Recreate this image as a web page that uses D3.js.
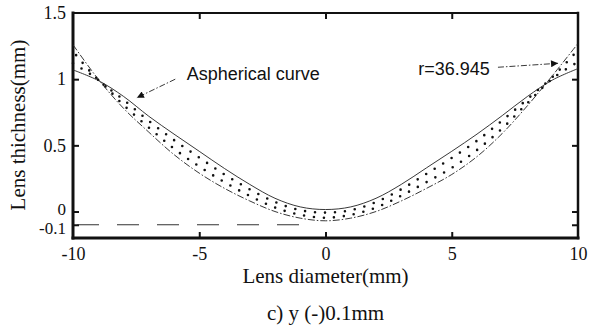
<!DOCTYPE html>
<html>
<head>
<meta charset="utf-8">
<script src="https://cdn.jsdelivr.net/npm/d3@7"></script>
<style>
  body { margin: 0; background: #fff; }
  svg { display: block; }
</style>
</head>
<body>
<div id="chart-container"></div>
<script>
// values (lens diameter in mm, thickness in mm)
const xValues = [-10, -9, -8, -7, -6, -5, -4, -3, -2, -1, 0, 1, 2, 3, 4, 5, 6, 7, 8, 9, 10];
const asphericValues = [1.07, 0.99, 0.87, 0.72, 0.585, 0.455, 0.325, 0.205, 0.1, 0.035, 0.015,
  0.035, 0.1, 0.205, 0.33, 0.455, 0.585, 0.725, 0.87, 0.995, 1.08];
const sphereValues = [1.26, 1.0, 0.78, 0.6, 0.43, 0.29, 0.175, 0.08, 0.0, -0.05, -0.07,
  -0.05, 0.0, 0.08, 0.175, 0.28, 0.415, 0.59, 0.8, 1.03, 1.27];
// the two rows of dots filling the band between the curves
const dotRowLow = [1.12, 0.995, 0.805, 0.635, 0.475, 0.34, 0.222, 0.118, 0.03, -0.025, -0.047,
  -0.025, 0.03, 0.12, 0.222, 0.33, 0.465, 0.628, 0.82, 1.006, 1.13];
const dotRowHigh = [1.21, 0.995, 0.845, 0.685, 0.54, 0.408, 0.28, 0.168, 0.072, 0.01, -0.008,
  0.01, 0.072, 0.168, 0.285, 0.405, 0.535, 0.688, 0.85, 1.019, 1.22];
// horizontal -0.1 mm shift line
const shiftLineX = [-10, -0.9];
const shiftLevel = -0.1;

const xTicks = [-10, -5, 0, 5, 10];
const yTicks = [-0.1, 0, 0.5, 1, 1.5];
const innerXTicks = [-5, 0, 5];
const innerYTicks = [-0.1, 0, 0.5, 1];

const chartWidth = 600;
const chartHeight = 329;
const margin = { top: 13, right: 22, bottom: 91, left: 73 };
const serif = '"Liberation Serif", "Times New Roman", serif';
const sans = '"Liberation Sans", Arial, sans-serif';

const svg = d3.select('#chart-container')
  .append('svg')
  .attr('width', chartWidth)
  .attr('height', chartHeight);

const xScale = d3.scaleLinear()
  .domain([-10, 10])
  .range([margin.left, chartWidth - margin.right]);
const yScale = d3.scaleLinear()
  .domain([-0.2, 1.5])
  .range([chartHeight - margin.bottom, margin.top]);

const x0 = xScale(-10), x1 = xScale(10);
const y0 = yScale(-0.2), y1 = yScale(1.5);

// Axes (ticks point inward)
const xAxis = d3.axisBottom(xScale).tickValues(xTicks)
  .tickSizeInner(0).tickSizeOuter(0).tickPadding(9).tickFormat((d) => String(d));
const yAxis = d3.axisLeft(yScale).tickValues(yTicks)
  .tickSizeInner(0).tickSizeOuter(0).tickPadding(7).tickFormat((d) => String(d));

const gx = svg.append('g').attr('transform', `translate(0,${y0})`).call(xAxis);
const gy = svg.append('g').attr('transform', `translate(${x0},0)`).call(yAxis);
[gx, gy].forEach((g) => {
  g.select('.domain').remove();
  g.selectAll('text')
    .attr('fill', '#111')
    .style('font-family', serif)
    .style('font-size', '18px');
});
// the "0" and "-0.1" labels sit very close, as in the figure
gy.selectAll('.tick').filter((d) => d === 0).select('text')
  .attr('dy', '0.15em').style('font-size', '17px');
gy.selectAll('.tick').filter((d) => d === -0.1).select('text')
  .attr('dy', '0.5em').style('font-size', '17px');

const tickAxes = [
  [d3.axisBottom(xScale).tickValues(innerXTicks), y0, 'x'],
  [d3.axisTop(xScale).tickValues(innerXTicks), y1, 'x'],
  [d3.axisLeft(yScale).tickValues(innerYTicks), x0, 'y'],
  [d3.axisRight(yScale).tickValues(innerYTicks), x1, 'y']
];
tickAxes.forEach(([ax, pos, dir]) => {
  const g = svg.append('g')
    .attr('transform', dir === 'x' ? `translate(0,${pos})` : `translate(${pos},0)`)
    .call(ax.tickSizeInner(-6).tickSizeOuter(0).tickFormat(''));
  g.select('.domain').remove();
  g.selectAll('line').attr('stroke', '#111').attr('stroke-width', 2);
});

// Frame
const frame = svg.append('g').attr('stroke', '#111').attr('stroke-linecap', 'square');
frame.append('line').attr('x1', x0).attr('x2', x1).attr('y1', y1).attr('y2', y1).attr('stroke-width', 2);
frame.append('line').attr('x1', x0).attr('x2', x1).attr('y1', y0).attr('y2', y0).attr('stroke-width', 3);
frame.append('line').attr('x1', x0).attr('x2', x0).attr('y1', y1).attr('y2', y0).attr('stroke-width', 3);
frame.append('line').attr('x1', x1).attr('x2', x1).attr('y1', y1).attr('y2', y0).attr('stroke-width', 2.5);

// Curves
const line = d3.line()
  .x((d) => xScale(d[0]))
  .y((d) => yScale(d[1]))
  .curve(d3.curveCatmullRom);
const zipped = (vals) => xValues.map((x, i) => [x, vals[i]]);

svg.append('path')
  .datum(zipped(asphericValues))
  .attr('d', line)
  .attr('fill', 'none')
  .attr('stroke', '#222')
  .attr('stroke-width', 0.9);

svg.append('path')
  .datum(zipped(sphereValues))
  .attr('d', line)
  .attr('fill', 'none')
  .attr('stroke', '#222')
  .attr('stroke-width', 0.9)
  .attr('stroke-dasharray', '7,2,1.5,2');

[[dotRowLow, 0], [dotRowHigh, 5]].forEach(([vals, offset]) => {
  svg.append('path')
    .datum(zipped(vals))
    .attr('d', line)
    .attr('fill', 'none')
    .attr('stroke', '#111')
    .attr('stroke-width', 2.6)
    .attr('stroke-linecap', 'round')
    .attr('stroke-dasharray', '0,10')
    .attr('stroke-dashoffset', offset);
});

// -0.1 mm shift line
svg.append('line')
  .attr('x1', xScale(shiftLineX[0]))
  .attr('x2', xScale(shiftLineX[1]))
  .attr('y1', yScale(shiftLevel))
  .attr('y2', yScale(shiftLevel))
  .attr('stroke', '#333')
  .attr('stroke-width', 1.2)
  .attr('stroke-dasharray', '22,18')
  .attr('stroke-dashoffset', -4);

// Annotations
svg.append('defs').append('marker')
  .attr('id', 'head')
  .attr('viewBox', '0 0 10 10')
  .attr('refX', 10).attr('refY', 5)
  .attr('markerWidth', 10).attr('markerHeight', 7)
  .attr('markerUnits', 'userSpaceOnUse')
  .attr('orient', 'auto')
  .append('path')
  .attr('d', 'M0,0L10,5L0,10z')
  .attr('fill', '#111');

const annotations = [
  { text: 'Aspherical curve', tx: -5.5, ty: 0.994, anchor: 'start', from: [-5.95, 1.0], to: [-7.47, 0.86] },
  { text: 'r=36.945', tx: 6.51, ty: 1.03, anchor: 'end', from: [6.83, 1.09], to: [9.21, 1.12] }
];
annotations.forEach((a) => {
  svg.append('line')
    .attr('x1', xScale(a.from[0])).attr('y1', yScale(a.from[1]))
    .attr('x2', xScale(a.to[0])).attr('y2', yScale(a.to[1]))
    .attr('stroke', '#222')
    .attr('stroke-width', 0.9)
    .attr('stroke-dasharray', '6,2,1.5,2')
    .attr('marker-end', 'url(#head)');
  svg.append('text')
    .attr('x', xScale(a.tx)).attr('y', yScale(a.ty))
    .attr('text-anchor', a.anchor)
    .style('font-family', sans)
    .style('font-size', '18px')
    .attr('fill', '#111')
    .text(a.text);
});

// Axis titles and caption
svg.append('text')
  .attr('x', xScale(0)).attr('y', 283)
  .attr('text-anchor', 'middle')
  .style('font-family', serif).style('font-size', '21px').attr('fill', '#111')
  .text('Lens diameter(mm)');

svg.append('text')
  .attr('transform', 'translate(25,125) rotate(-90)')
  .attr('text-anchor', 'middle')
  .style('font-family', serif).style('font-size', '21px').attr('fill', '#111')
  .text('Lens thichness(mm)');

svg.append('text')
  .attr('x', xScale(0)).attr('y', 320)
  .attr('text-anchor', 'middle')
  .style('font-family', serif).style('font-size', '21px').attr('fill', '#111')
  .text('c) y (-)0.1mm');
</script>
</body>
</html>
